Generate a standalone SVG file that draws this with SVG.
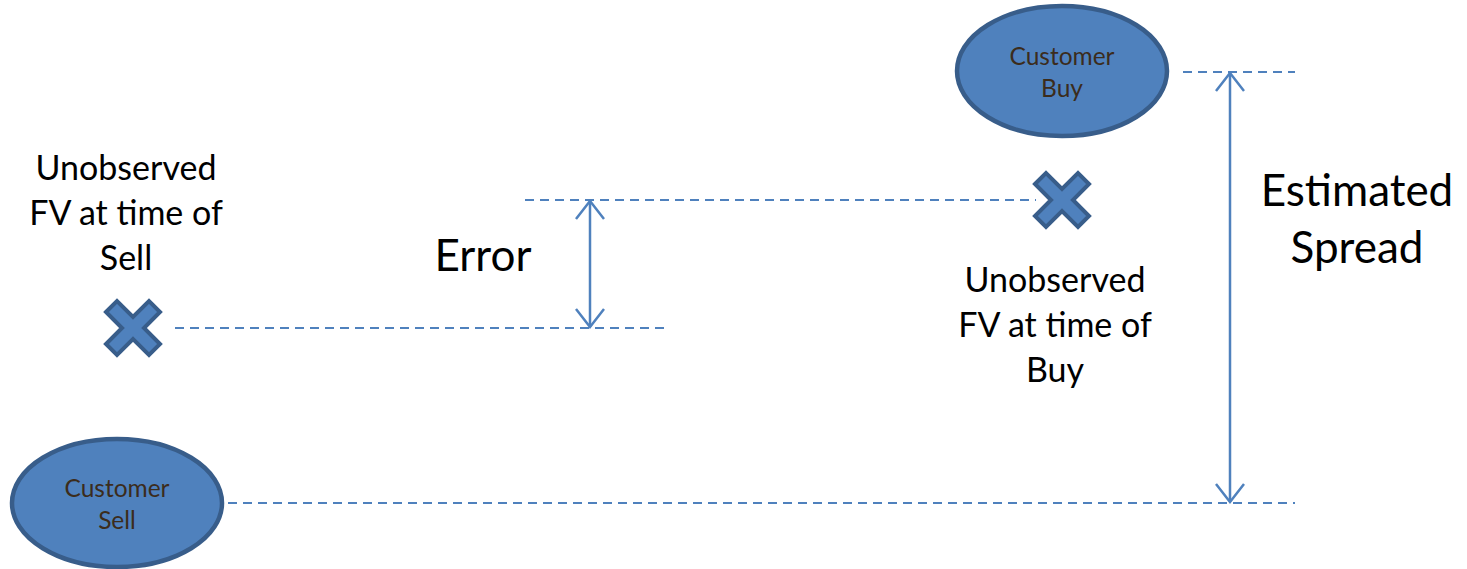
<svg xmlns="http://www.w3.org/2000/svg" width="1467" height="569" viewBox="0 0 1467 569">
<style>
.dash{stroke:#4f81bd;stroke-width:2;stroke-dasharray:9 6;fill:none}
.arr{stroke:#4f81bd;stroke-width:2.5;fill:none;marker-start:url(#ah);marker-end:url(#ah)}
.ell{fill:#4f81bd;stroke:#385d8a;stroke-width:4.5}
.ell-t{font-family:Lato,"Open Sans",sans-serif;font-size:24.5px;fill:#3b2c1c;text-anchor:middle}
.big{font-family:Lato,"Open Sans",sans-serif;fill:#000;text-anchor:middle}
.x{fill:#4f81bd;stroke:#385d8a;stroke-width:4;stroke-linejoin:miter}
</style>
<defs>
<marker id="ah" viewBox="-20 -16 22 32" markerWidth="22" markerHeight="32" refX="0" refY="0" orient="auto-start-reverse" markerUnits="userSpaceOnUse">
<path d="M-18,-14 L0,0 L-18,14" fill="none" stroke="#4f81bd" stroke-width="2.5"/>
</marker>
<polygon id="xs" points="-27,-16 -16,-27 0,-11 16,-27 27,-16 11,0 27,16 16,27 0,11 -16,27 -27,16 -11,0"/>
</defs>
<g id="connectors">
<line class="dash" x1="175" y1="328" x2="668" y2="328"/>
<line class="dash" x1="525" y1="200" x2="1036" y2="200"/>
<line class="dash" x1="1183" y1="72" x2="1295" y2="72"/>
<line class="dash" x1="228" y1="503" x2="1295" y2="503"/>
<line class="arr" x1="590" y1="201" x2="590" y2="327"/>
<line class="arr" x1="1230" y1="73" x2="1230" y2="502"/>
</g>
<g id="customer-buy">
<ellipse class="ell" cx="1062" cy="71" rx="105" ry="65"/>
<text class="ell-t" x="1062" y="65">Customer</text>
<text class="ell-t" x="1062" y="97">Buy</text>
</g>
<g id="customer-sell">
<ellipse class="ell" cx="117" cy="503" rx="105" ry="64"/>
<text class="ell-t" x="117" y="497">Customer</text>
<text class="ell-t" x="117" y="529">Sell</text>
</g>
<g id="fv-sell-mark">
<use href="#xs" class="x" x="133" y="328"/>
</g>
<g id="fv-buy-mark">
<use href="#xs" class="x" x="1062" y="200"/>
</g>
<g id="fv-sell-label">
<text class="big" font-size="34" x="126" y="180">Unobserved</text>
<text class="big" font-size="34" x="126" y="225">FV at time of</text>
<text class="big" font-size="34" x="126" y="270">Sell</text>
</g>
<g id="fv-buy-label">
<text class="big" font-size="34" x="1055" y="292">Unobserved</text>
<text class="big" font-size="34" x="1055" y="337">FV at time of</text>
<text class="big" font-size="34" x="1055" y="382">Buy</text>
</g>
<g id="error-label">
<text class="big" font-size="44" x="483" y="271">Error</text>
</g>
<g id="spread-label">
<text class="big" font-size="44" x="1357" y="206">Estimated</text>
<text class="big" font-size="44" x="1357" y="263">Spread</text>
</g>
</svg>
